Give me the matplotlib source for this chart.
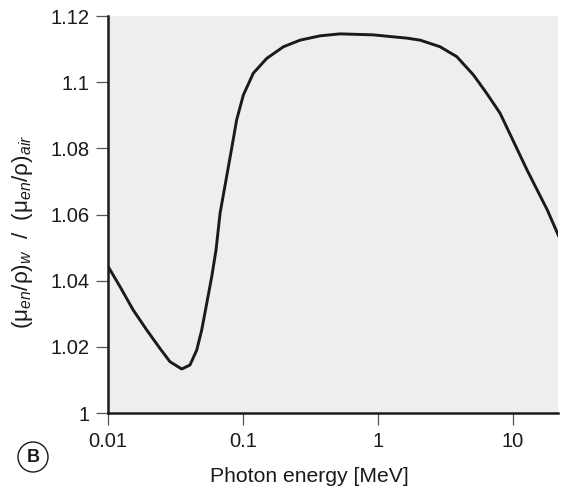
import matplotlib.pyplot as plt
from matplotlib.patches import Circle

plt.rcParams['font.family'] = ['Liberation Sans', 'DejaVu Sans']
plt.rcParams['mathtext.fontset'] = 'custom'
plt.rcParams['mathtext.rm'] = 'Liberation Sans'
plt.rcParams['mathtext.it'] = 'Liberation Sans:italic'

# photon energy [MeV] and ratio of mass energy-absorption coefficients, water/air
energy = [0.01005, 0.01227, 0.01538, 0.01935, 0.02427, 0.02877, 0.03514,
          0.04046, 0.04539, 0.04943, 0.05383, 0.05862, 0.0631, 0.0676,
          0.0824, 0.0897, 0.1005, 0.1191, 0.1499, 0.1991, 0.2644, 0.3715,
          0.523, 0.918, 1.64, 2.05, 2.88, 3.83, 5.08, 6.38, 8.01, 8.87,
          12.7, 17.9, 21.9]
ratio = [1.0442, 1.0382, 1.0311, 1.0251, 1.0195, 1.0155, 1.0133,
         1.0145, 1.0190, 1.0251, 1.0331, 1.0412, 1.0493, 1.0604,
         1.0800, 1.0886, 1.0961, 1.1027, 1.1072, 1.1107, 1.1127, 1.1140,
         1.1146, 1.1143, 1.1133, 1.1127, 1.1107, 1.1077, 1.1022, 1.0966,
         1.0906, 1.0868, 1.0734, 1.0614, 1.0532]

yticks = [1, 1.02, 1.04, 1.06, 1.08, 1.1, 1.12]
ytick_labels = ['1', '1.02', '1.04', '1.06', '1.08', '1.1', '1.12']
xticks = [0.01, 0.1, 1, 10]
xtick_labels = ['0.01', '0.1', '1', '10']

W, H = 566, 490
fig = plt.figure(figsize=(W / 100, H / 100), dpi=100)
ax = fig.add_axes([108 / W, 77 / H, 450 / W, 397 / H])
ax.set_facecolor('#eeeeee')

ax.plot(energy, ratio, color='#1a1a1a', lw=2.1,
        solid_capstyle='round', solid_joinstyle='round')

ax.set_xscale('log')
ax.set_xlim(0.01, 21.5)
ax.set_ylim(1, 1.12)
ax.set_xticks(xticks)
ax.set_xticklabels(xtick_labels)
ax.set_yticks(yticks)
ax.set_yticklabels(ytick_labels)
ax.minorticks_off()

for s in ['top', 'right']:
    ax.spines[s].set_visible(False)
for s in ['left', 'bottom']:
    ax.spines[s].set_linewidth(1.8)
    ax.spines[s].set_color('#1a1a1a')

ax.tick_params(axis='both', direction='out', length=8.5, width=0.9,
               color='#555555', labelsize=14.5, labelcolor='#1a1a1a', pad=5)

fig.text(309 / W, 1 - 476 / H, 'Photon energy [MeV]', ha='center', va='center',
         fontsize=15.2, color='#1a1a1a')
fig.text(23 / W, 1 - 232 / H,
         r'$(\mathrm{μ}_{en}/\mathrm{ρ})_w\ \ /\ \ (\mathrm{μ}_{en}/\mathrm{ρ})_{air}$',
         rotation=90, ha='center', va='center', fontsize=16.2, color='#1a1a1a')

# panel marker
fig.patches.append(Circle((33, H - 457), 15, transform=None, fill=False,
                          edgecolor='#1a1a1a', lw=1.0))
fig.text(33 / W, 1 - 457 / H, 'B', ha='center', va='center',
         fontsize=13, fontweight='bold', color='#1a1a1a')

fig.savefig('out.png', dpi=100)
